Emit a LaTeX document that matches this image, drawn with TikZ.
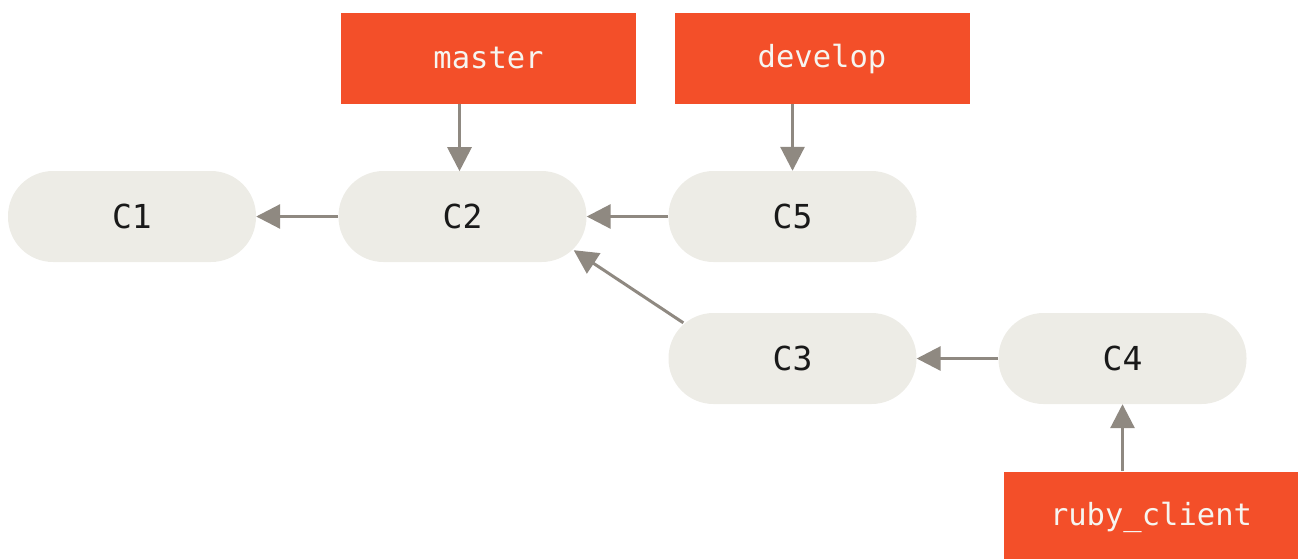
\documentclass[tikz,border=0pt]{standalone}
\usepackage{fontspec}
\newfontfamily\monofont{DejaVu Sans Mono}
\usetikzlibrary{arrows.meta,calc}
\definecolor{commitfill}{HTML}{EDECE6}
\definecolor{branchred}{HTML}{F34F29}
\definecolor{arrowgray}{HTML}{8F8981}
\definecolor{labelwhite}{HTML}{F6F5F0}
\tikzset{
  commit/.style={rectangle, fill=commitfill, minimum width=248pt, minimum height=91pt,
    rounded corners=45pt, inner sep=0pt, font=\monofont\fontsize{33}{33}\selectfont, text=black!90},
  branch/.style={rectangle, fill=branchred, minimum width=295pt, minimum height=91pt,
    inner sep=0pt, font=\monofont\fontsize{30.5}{30.5}\selectfont, text=labelwhite},
  arr/.style={draw=arrowgray, line width=3pt, -{Triangle[length=24pt,width=24pt]}, fill=arrowgray}
}
\begin{document}
\begin{tikzpicture}[x=1pt,y=-1pt]
\useasboundingbox (0,0) rectangle (1298,558);
\node[commit] (c1) at (132,216.5) {C1};
\node[commit] (c2) at (462.5,216.5) {C2};
\node[commit] (c5) at (792.5,216.5) {C5};
\node[commit] (c3) at (792.5,358.5) {C3};
\node[commit] (c4) at (1122.5,358.5) {C4};
\node[branch] (master) at (488.5,58.5) {\raisebox{-1.5pt}{master}};
\node[branch] (develop) at (822,58.5) {\raisebox{-1.5pt}{develop}};
\node[branch, minimum width=294pt] (ruby) at (1151,517) {\raisebox{-1.5pt}{ruby\_client}};
\draw[arr] (c2.west) -- (c1.east);
\draw[arr] (c5.west) -- (c2.east);
\draw[arr] (c4.west) -- (c3.east);
\draw[arr] ($(c3.north west)+(15,10)$) -- ($(c2.south east)+(-13,-12)$);
\draw[arr] (master.south -| c2.center) ++(-3,0) -- ++(0,67);
\draw[arr] (develop.south -| c5.center) -- (c5.north);
\draw[arr] (ruby.north -| c4.center) -- (c4.south);
\end{tikzpicture}
\end{document}
